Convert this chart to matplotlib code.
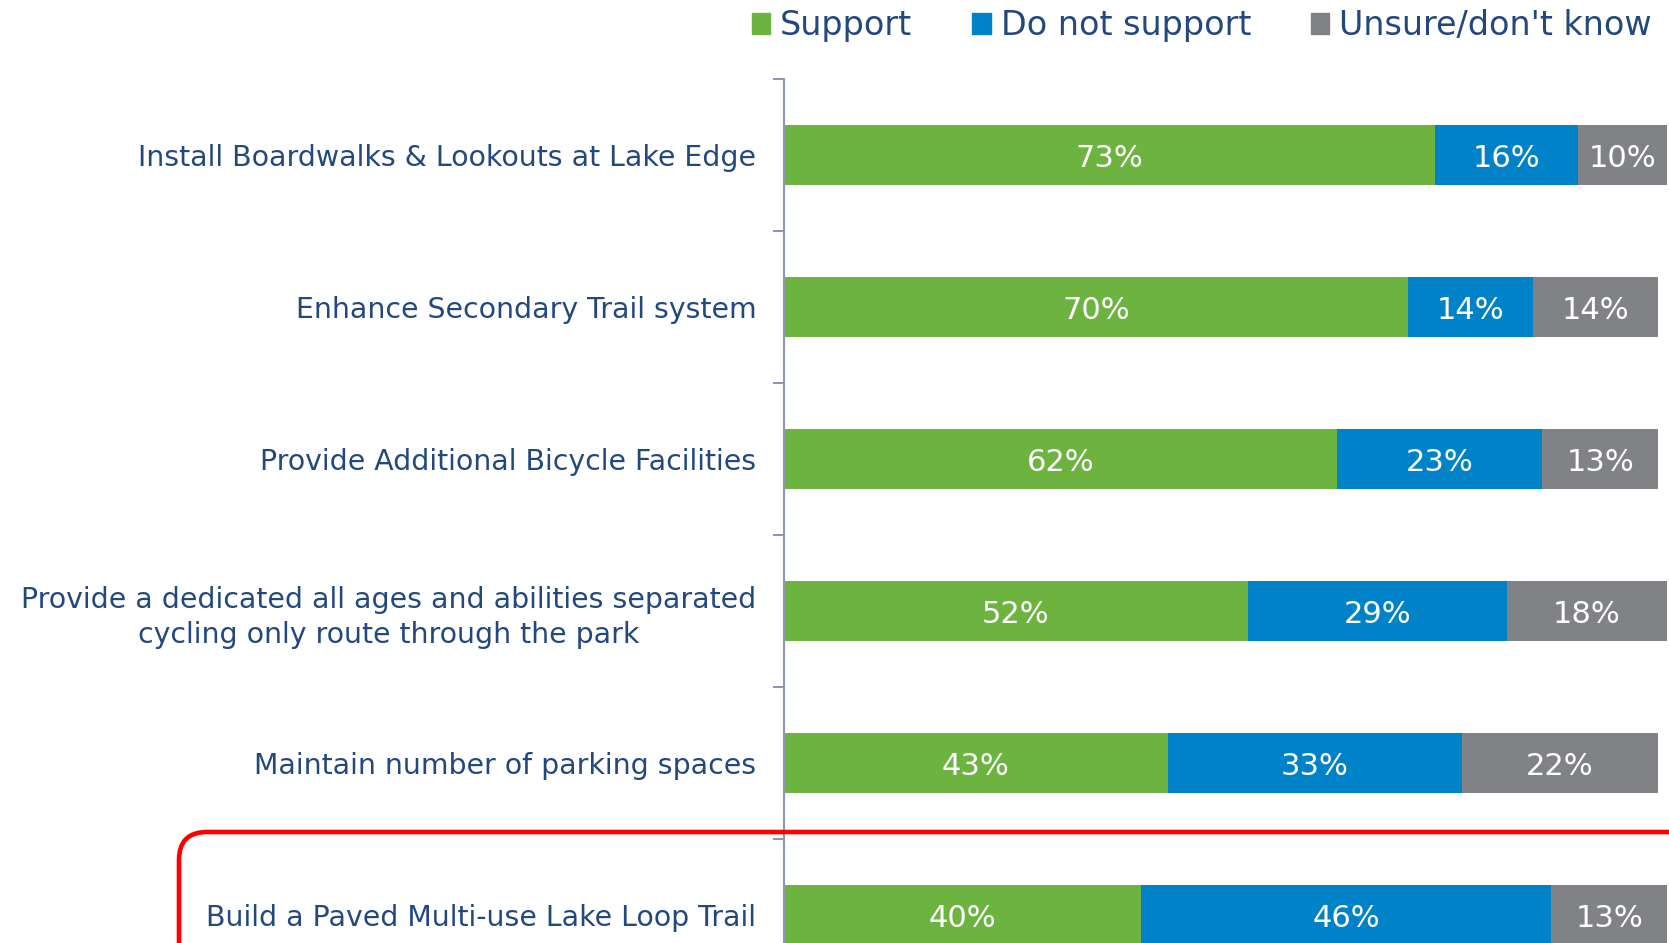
import numpy as np
import matplotlib.pyplot as plt
from matplotlib.patches import Patch, FancyBboxPatch
from matplotlib.transforms import IdentityTransform

categories = [
    "Install Boardwalks & Lookouts at Lake Edge",
    "Enhance Secondary Trail system",
    "Provide Additional Bicycle Facilities",
    "Provide a dedicated all ages and abilities separated\ncycling only route through the park",
    "Maintain number of parking spaces",
    "Build a Paved Multi-use Lake Loop Trail",
]
support = [73, 70, 62, 52, 43, 40]
not_support = [16, 14, 23, 29, 33, 46]
unsure = [10, 14, 13, 18, 22, 13]

series = ["Support", "Do not support", "Unsure/don't know"]
colors = ["#6DB33F", "#0082C8", "#808285"]
text_col = "#22487E"
axis_col = "#8D97B0"

plt.rcParams['font.family'] = ['DejaVu Sans']

W, H = 1669, 943
fig = plt.figure(figsize=(W / 100, H / 100), dpi=100)
ax = fig.add_axes([784 / W, (H - 991) / H, 892 / W, 912 / H])

y = np.arange(len(categories))
left = np.zeros(len(categories))
for vals, col in zip([support, not_support, unsure], colors):
    vals = np.array(vals)
    ax.barh(y, vals, left=left, height=0.4, color=col)
    for yi, l, v in zip(y, left, vals):
        ax.text(l + v / 2, yi + 0.02, f"{v}%", ha="center", va="center",
                color="white", fontsize=22)
    left += vals

ax.set_xlim(0, 100)
ax.set_ylim(len(categories) - 0.5, -0.5)

for s in ["top", "right", "bottom"]:
    ax.spines[s].set_visible(False)
ax.spines["left"].set_color(axis_col)
ax.spines["left"].set_linewidth(1.5)
ax.set_xticks([])
ax.set_yticks(y)
ax.set_yticklabels(categories, fontsize=20.4, color=text_col,
                   multialignment="center", linespacing=1.3)
ax.tick_params(axis="y", which="major", length=0, pad=20)
ax.set_yticks(np.arange(-0.5, len(categories)), minor=True)
ax.tick_params(axis="y", which="minor", length=8, width=1.5, color=axis_col)

handles = [Patch(color=c, label=s) for c, s in zip(colors, series)]
fig.legend(handles=handles, loc="upper right", bbox_to_anchor=(1682 / W, 1.022),
           ncol=3, frameon=False, fontsize=24, labelcolor=text_col,
           handlelength=0.55, handleheight=0.55, handletextpad=0.3,
           columnspacing=1.8)

box = FancyBboxPatch((179, -60), 1600, H - 832 + 60,
                     boxstyle="round,pad=0,rounding_size=28",
                     transform=IdentityTransform(), fill=False,
                     edgecolor="#FF0000", linewidth=3.3, clip_on=False)
fig.patches.append(box)

fig.savefig("out.png", dpi=100)
